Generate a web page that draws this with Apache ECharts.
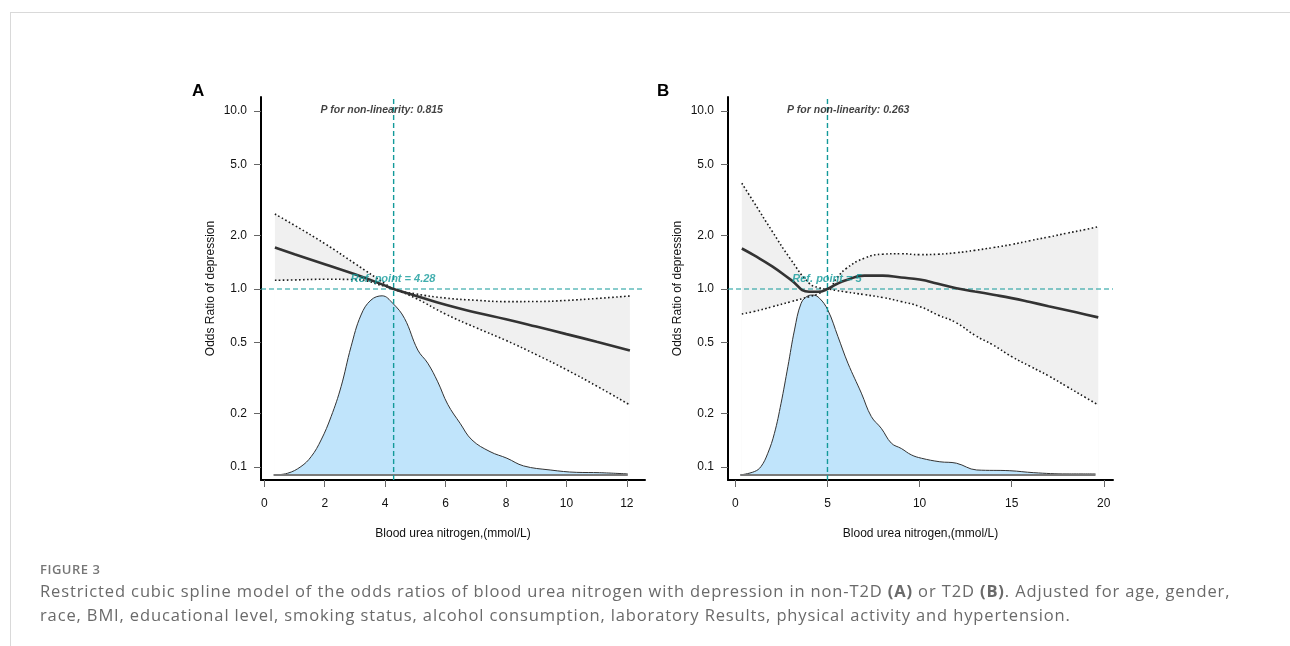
<!DOCTYPE html>
<html>
<head>
<meta charset="utf-8">
<title>Figure 3</title>
<script src="https://cdn.jsdelivr.net/npm/echarts@6/dist/echarts.min.js"></script>
<style>
  body { margin: 0; background: #fff; }
  #wrap { position: relative; width: 1290px; height: 646px; overflow: hidden; }
  #chart { position: absolute; left: 0; top: 0; width: 1290px; height: 646px; }
  .rule-top { position: absolute; left: 10px; top: 12px; width: 1280px; height: 1px; background: #d9d9d9; }
  .rule-left { position: absolute; left: 10px; top: 12px; width: 1px; height: 634px; background: #d9d9d9; }
  .fig { position: absolute; left: 40px; top: 558px; font: 600 13px/22px 'Open Sans'; letter-spacing: 0.5px; color: #777; }
  .cap { position: absolute; left: 40px; top: 579px; font: 16.5px/24px 'Open Sans'; letter-spacing: 0.87px; color: #6a6a6a; white-space: nowrap; }
  .cap b { font-weight: 700; }
</style>
</head>
<body>
<div id="wrap">
  <div class="rule-top"></div>
  <div class="rule-left"></div>
  <div id="chart"></div>
  <div class="fig">FIGURE 3</div>
  <div class="cap">Restricted cubic spline model of the odds ratios of blood urea nitrogen with depression in non-T2D <b>(A)</b> or T2D <b>(B)</b>. Adjusted for age, gender,<br>race, BMI, educational level, smoking status, alcohol consumption, laboratory Results, physical activity and hypertension.</div>
</div>
<script>
// ---- data (odds ratios) ----
// panel A: non-T2D
var xA = [0.35, 1, 2, 3, 4, 4.28, 5, 6, 7, 8, 9, 10, 11, 12.1]
var orA = [1.71, 1.57, 1.38, 1.21, 1.045, 1.0, 0.918, 0.815, 0.739, 0.676, 0.615, 0.558, 0.506, 0.452]
var upperA = [2.64, 2.28, 1.80, 1.39, 1.07, 1.0, 0.94, 0.89, 0.865, 0.85, 0.851, 0.863, 0.885, 0.914]
var lowerA = [1.12, 1.125, 1.135, 1.13, 1.035, 1.0, 0.889, 0.723, 0.607, 0.514, 0.428, 0.352, 0.285, 0.223]
var densXA = [0.31, 0.77, 1.21, 1.55, 1.88, 2.21, 2.54, 2.87, 3.2, 3.53, 3.9, 4.25, 4.64, 5.08, 5.41, 5.74, 6.07, 6.48, 6.87, 7.47, 8.03, 8.58, 9.46, 10.34, 11.1, 12.03]
var densA = [0.0902, 0.0922, 0.1005, 0.1143, 0.1419, 0.1918, 0.2826, 0.4743, 0.7145, 0.867, 0.916, 0.832, 0.684, 0.454, 0.383, 0.301, 0.225, 0.176, 0.142, 0.122, 0.112, 0.1014, 0.0962, 0.0933, 0.0929, 0.0914]
var refA = 4.28
var pA = '0.815'

// panel B: T2D
var xB = [0.35, 1, 2, 3, 4, 4.5, 5, 5.5, 6, 7, 8, 9, 10, 11, 12, 13, 14, 15, 16, 17, 18, 19, 19.7]
var orB = [1.69, 1.55, 1.34, 1.13, 0.966, 0.965, 1.0, 1.067, 1.12, 1.19, 1.19, 1.16, 1.13, 1.07, 1.01, 0.969, 0.929, 0.889, 0.845, 0.801, 0.76, 0.72, 0.693]
var upperB = [3.93, 3.08, 2.11, 1.47, 1.08, 1.02, 1.0, 1.15, 1.3, 1.49, 1.57, 1.58, 1.56, 1.57, 1.6, 1.65, 1.71, 1.78, 1.87, 1.96, 2.06, 2.16, 2.24]
var lowerB = [0.724, 0.747, 0.795, 0.848, 0.905, 0.94, 1.0, 0.98, 0.963, 0.93, 0.896, 0.85, 0.798, 0.714, 0.646, 0.55, 0.484, 0.417, 0.368, 0.325, 0.283, 0.246, 0.223]
var densXB = [0.27, 1.03, 1.39, 1.76, 2.12, 2.48, 2.85, 3.21, 3.57, 3.93, 4.21, 4.57, 5.02, 5.57, 6.11, 6.84, 7.38, 7.92, 8.47, 9.01, 9.55, 10.1, 11.1, 12.0, 13.1, 14.9, 16.2, 18.0, 19.55]
var densB = [0.0902, 0.0942, 0.1005, 0.1194, 0.1546, 0.228, 0.366, 0.589, 0.832, 0.914, 0.925, 0.887, 0.762, 0.54, 0.383, 0.26, 0.192, 0.165, 0.136, 0.127, 0.117, 0.112, 0.107, 0.105, 0.0962, 0.0953, 0.0929, 0.0914, 0.0914]
var refB = 5
var pB = '0.263'

var densBase = 0.0902
var yTicks = [0.1, 0.2, 0.5, 1.0, 2.0, 5.0, 10.0]
var xTicksA = [0, 2, 4, 6, 8, 10, 12]
var xTicksB = [0, 5, 10, 15, 20]

// ---- helpers ----
var TEAL = '#129a9a'
var FONT = 'Liberation Sans'
var SMOOTH = 0.5
var Y_MIN = 0.0845
var Y_MAX = 12.0
var lg = function (v) { return Math.log10(v) }
var pairs = function (xs, ys) { return xs.map(function (x, i) { return [x, lg(ys[i])] }) }

function panelSeries (i, xs, or, upper, lower, dx, dens, ref, pText, pX, xMin, xMax) {
  var ax = { xAxisIndex: i, yAxisIndex: i }
  var dotted = { color: '#1a1a1a', width: 1.6, type: [1.6, 2.4] }
  var dashed = { color: TEAL, width: 1.1, type: [5, 3] }
  var hidden = { opacity: 0 }
  var base = lg(densBase)
  var annoLabel = { show: true, fontWeight: 'bold', fontStyle: 'italic', fontFamily: FONT }
  var list = [
    // CI band: grey under the upper limit, then white under the lower limit
    { type: 'line', data: pairs(xs, upper), smooth: SMOOTH, symbol: 'none', silent: true, lineStyle: hidden,
      areaStyle: { color: '#f0f0f0', opacity: 1, origin: base } },
    { type: 'line', data: pairs(xs, lower), smooth: SMOOTH, symbol: 'none', silent: true, lineStyle: hidden,
      areaStyle: { color: '#ffffff', opacity: 1, origin: base } },
    // density of the exposure
    { type: 'line', data: pairs(dx, dens), smooth: 0.4, symbol: 'none', silent: true,
      lineStyle: { color: '#333', width: 1 },
      areaStyle: { color: '#c0e4fb', opacity: 1, origin: base } },
    { type: 'line', data: [[dx[0], base], [dx[dx.length - 1], base]], symbol: 'none', silent: true,
      lineStyle: { color: '#7a7a7a', width: 2 } },
    // reference lines (x = ref point, OR = 1)
    { type: 'line', data: [[ref, lg(Y_MIN)], [ref, lg(Y_MAX)]], symbol: 'none', silent: true,
      lineStyle: Object.assign({}, dashed, { width: 1.4 }) },
    { type: 'line', data: [[xMin, 0], [xMax, 0]], symbol: 'none', silent: true, lineStyle: dashed },
    // confidence limits
    { type: 'line', data: pairs(xs, upper), smooth: SMOOTH, symbol: 'none', silent: true, lineStyle: dotted },
    { type: 'line', data: pairs(xs, lower), smooth: SMOOTH, symbol: 'none', silent: true, lineStyle: dotted },
    // fitted OR
    { type: 'line', data: pairs(xs, or), smooth: SMOOTH, symbol: 'none', silent: true,
      lineStyle: { color: '#333', width: 2.6 } },
    // annotations
    { type: 'scatter', z: 10, symbolSize: 1, itemStyle: { color: 'rgba(0,0,0,0)' }, silent: true,
      labelLayout: { hideOverlap: false },
      data: [
        { value: [pX, lg(10)], label: Object.assign({}, annoLabel, { position: [0, 0], align: 'center', verticalAlign: 'middle',
          formatter: 'P for non-linearity: ' + pText, color: '#111', fontSize: 10.5 }) },
        { value: [ref, 0], label: Object.assign({}, annoLabel, { position: [0, -10], align: 'center', verticalAlign: 'middle',
          formatter: 'Ref. point = ' + ref, color: TEAL, fontSize: 11 }) }
      ] }
  ]
  list.forEach(function (s) { Object.assign(s, ax) })
  return list
}

function xAxisOf (i, min, max, ticks) {
  return {
    type: 'value', gridIndex: i, min: min, max: max,
    name: 'Blood urea nitrogen,(mmol/L)', nameLocation: 'middle', nameGap: 48,
    nameTextStyle: { fontSize: 12, color: '#111', fontFamily: FONT },
    axisLine: { show: true, onZero: false, lineStyle: { color: '#000', width: 2 } },
    axisTick: { show: true, length: 7, customValues: ticks, lineStyle: { color: '#666' } },
    axisLabel: { customValues: ticks, fontSize: 12, color: '#111', margin: 18, fontFamily: FONT },
    splitLine: { show: false }
  }
}

function yAxisOf (i) {
  var ticks = yTicks.map(lg)
  return {
    type: 'value', gridIndex: i, min: lg(Y_MIN), max: lg(Y_MAX),
    name: 'Odds Ratio of depression', nameLocation: 'middle', nameGap: 44,
    nameTextStyle: { fontSize: 12, color: '#111', fontFamily: FONT },
    axisLine: { show: true, onZero: false, lineStyle: { color: '#000', width: 2 } },
    axisTick: { show: true, length: 7, customValues: ticks, lineStyle: { color: '#666' } },
    axisLabel: { customValues: ticks, fontSize: 12, color: '#111', margin: 14, fontFamily: FONT,
      formatter: function (v) { return Math.pow(10, v).toFixed(1) } },
    splitLine: { show: false }
  }
}

var xMinA = -0.11
var xMaxA = 12.6
var xMinB = -0.4
var xMaxB = 20.5

var option = {
  animation: false,
  backgroundColor: 'transparent',
  title: [
    { text: 'A', left: 187, top: 78, textStyle: { fontSize: 17, fontWeight: 'bold', color: '#000', fontFamily: FONT } },
    { text: 'B', left: 652, top: 78, textStyle: { fontSize: 17, fontWeight: 'bold', color: '#000', fontFamily: FONT } }
  ],
  grid: [
    { left: 261, top: 97, width: 384, height: 383 },
    { left: 728, top: 97, width: 385, height: 383 }
  ],
  xAxis: [xAxisOf(0, xMinA, xMaxA, xTicksA), xAxisOf(1, xMinB, xMaxB, xTicksB)],
  yAxis: [yAxisOf(0), yAxisOf(1)],
  series: [].concat(
    panelSeries(0, xA, orA, upperA, lowerA, densXA, densA, refA, pA, 3.9, xMinA, xMaxA),
    panelSeries(1, xB, orB, upperB, lowerB, densXB, densB, refB, pB, 6.15, xMinB, xMaxB)
  )
}

var myChart = echarts.init(document.getElementById('chart'))
myChart.setOption(option)
</script>
</body>
</html>
